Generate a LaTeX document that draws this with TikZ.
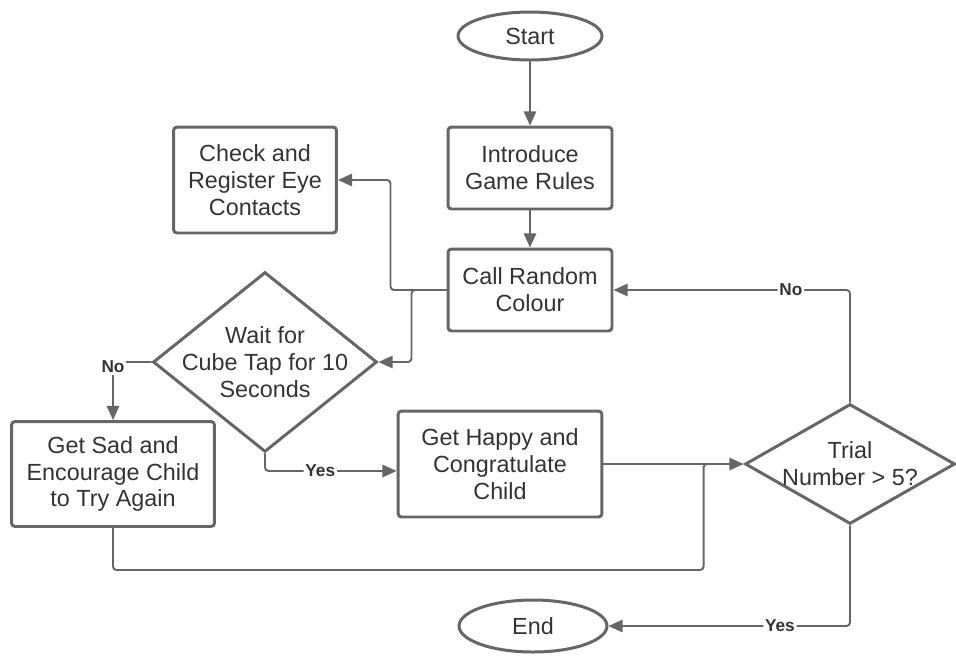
\documentclass[tikz,border=0pt]{standalone}
\usepackage{fontspec}
\setmainfont{Liberation Sans}
\usetikzlibrary{shapes.geometric,arrows.meta}
\definecolor{linegray}{HTML}{666666}
\definecolor{textgray}{HTML}{333333}

\begin{document}
\begin{tikzpicture}[x=0.02cm,y=-0.02cm,
  every node/.style={text=textgray,font=\fontsize{13.3}{15.3}\selectfont},
  box/.style={draw=linegray,line width=1.7pt,rounded corners=2pt,align=center,inner sep=0pt},
  term/.style={draw=linegray,line width=1.7pt,ellipse,inner sep=0pt},
  decision/.style={draw=linegray,line width=1.7pt,diamond,inner sep=0pt},
  flow/.style={draw=linegray,line width=1.1pt,rounded corners=2pt,-{Triangle[length=8pt,width=7pt]}},
  lbl/.style={fill=white,inner sep=1pt,font=\fontsize{9.8}{11}\selectfont\bfseries}]
\useasboundingbox (0,0) rectangle (956,657);

\node[term,minimum width=2.88cm,minimum height=0.96cm] (start) at (530,36) {Start};
\node[box,minimum width=3.28cm,minimum height=1.64cm] (rules) at (530,168) {Introduce\\Game Rules};
\node[box,minimum width=3.26cm,minimum height=2.12cm] (check) at (255,180) {Check and\\Register Eye\\Contacts};
\node[box,minimum width=3.28cm,minimum height=1.64cm] (call) at (530,290) {Call Random\\Colour};
\node[decision,minimum width=4.48cm,minimum height=3.6cm] (wait) at (265,362) {};
\node[align=center] (waittext) at (wait) {Wait for\\Cube Tap for 10\\Seconds};
\node[box,minimum width=4.06cm,minimum height=2.1cm] (sad) at (113,474) {Get Sad and\\Encourage Child\\to Try Again};
\node[box,minimum width=4.08cm,minimum height=2.12cm] (happy) at (500,464) {Get Happy and\\Congratulate\\Child};
\node[decision,minimum width=4.2cm,minimum height=2.4cm] (trial) at (850,464) {};
\node[align=center] (trialtext) at (trial) {Trial\\Number > 5?};
\node[term,minimum width=2.96cm,minimum height=1.04cm] (finish) at (533,626) {End};

\draw[flow] (start) -- (rules);
\draw[flow] (rules) -- (call);
\draw[flow] (call.west) -- ++(-56,0) |- (check.east);
\draw[flow] (call.west) -- ++(-35,0) |- (wait.east);
\draw[flow] (wait.west) -| node[lbl,pos=0.5,yshift=-0.1cm]{No} (sad.north);
\draw[flow] (wait.south) |- node[lbl,pos=0.71]{Yes} ([yshift=-0.14cm]happy.west);
\draw[flow] (happy.east) -- (trial.west);
\draw[draw=linegray,line width=1.1pt,rounded corners=2pt] (sad.south) -- ++(0,42) -| ([xshift=-0.8cm]trial.west) -- ([xshift=-0.5cm]trial.west);
\draw[flow] (trial.north) |- node[lbl,pos=0.625]{No} (call.east);
\draw[flow] (trial.south) |- node[lbl,pos=0.645]{Yes} (finish.east);
\end{tikzpicture}
\end{document}
